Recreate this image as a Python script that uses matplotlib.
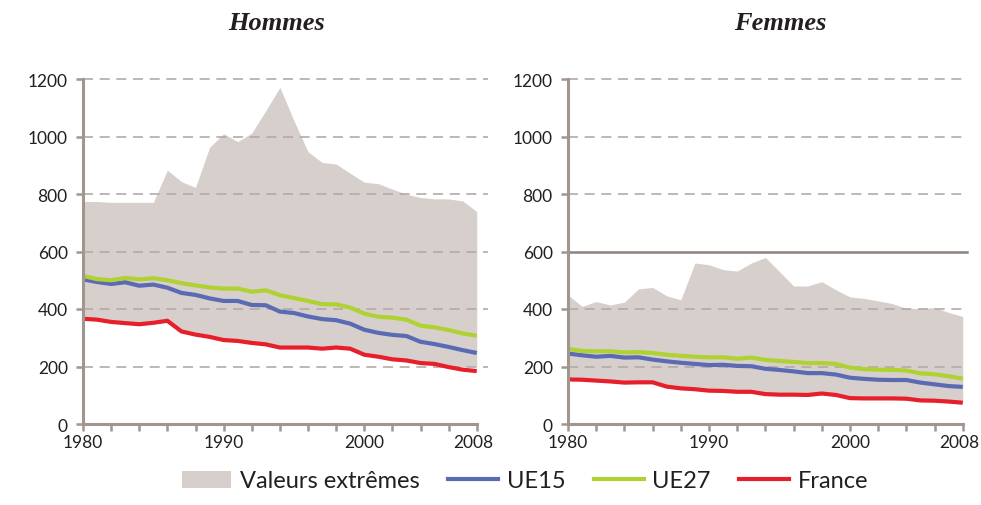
import numpy as np
import matplotlib
matplotlib.use("Agg")
import matplotlib.pyplot as plt
import matplotlib.transforms as mtransforms
from matplotlib.patches import Patch
from matplotlib.lines import Line2D

# Data
years = np.arange(1980, 2009)

hommes_max = [774, 774, 771, 771, 771, 771, 883, 843, 823, 962, 1010, 982, 1012, 1090, 1171,
              1055, 947, 910, 904, 872, 841, 836, 817, 799, 788, 783, 783, 776, 739]
hommes_ue15 = [503, 494, 487, 493, 481, 485, 474, 456, 449, 437, 428, 428, 414, 413, 391,
               386, 374, 365, 361, 349, 328, 317, 310, 306, 286, 278, 268, 257, 247]
hommes_ue27 = [515, 504, 500, 508, 503, 507, 500, 490, 482, 475, 471, 471, 460, 465, 448,
               438, 428, 417, 416, 405, 384, 373, 370, 363, 342, 336, 327, 315, 307]
hommes_france = [366, 363, 355, 351, 347, 352, 359, 322, 311, 303, 292, 289, 282, 277, 266,
                 266, 266, 262, 266, 262, 241, 234, 225, 221, 212, 209, 198, 189, 184]
hommes_min = [366, 363, 355, 351, 347, 352, 359, 322, 311, 303, 292, 289, 282, 277, 266,
              266, 266, 262, 266, 262, 241, 234, 225, 221, 212, 209, 203, 200, 198]

femmes_max = [449, 409, 426, 414, 424, 470, 475, 446, 432, 560, 554, 537, 532, 560, 579,
              530, 480, 480, 495, 467, 442, 437, 428, 419, 402, 402, 405, 388, 374]
femmes_ue15 = [245, 239, 234, 237, 231, 232, 224, 218, 213, 209, 205, 206, 202, 201, 192,
               188, 183, 177, 177, 172, 161, 157, 154, 153, 153, 144, 138, 132, 129]
femmes_ue27 = [261, 254, 253, 253, 249, 250, 247, 241, 237, 234, 232, 232, 227, 231, 223,
               219, 216, 212, 212, 209, 196, 191, 189, 188, 186, 176, 173, 166, 158]
femmes_france = [155, 154, 151, 148, 144, 145, 145, 130, 124, 121, 116, 115, 112, 112, 104,
                 102, 102, 101, 106, 101, 90, 89, 89, 89, 88, 82, 81, 78, 74]
femmes_min = femmes_france

yticks = [0, 200, 400, 600, 800, 1000, 1200]
xticklabels = {1980: "1980", 1990: "1990", 2000: "2000", 2008: "2008"}

FILL = "#d7cfcc"
BLUE = "#5a6bb4"
GREEN = "#afd232"
RED = "#e61f2a"
AXIS = "#a0958f"
GRID = "#b3aaa7"
TEXT = "#231f20"
FONT = ["Lato", "DejaVu Sans"]

fig = plt.figure(figsize=(9.81, 5.06), dpi=100)


def draw_panel(rect, xmax, vmax, vmin, ue15, ue27, france, title, title_x, solid600=False):
    ax = fig.add_axes(rect)
    ax.set_xlim(1980, xmax)
    ax.set_ylim(0, 1200)
    ax.fill_between(years, vmin, vmax, color=FILL, lw=0, zorder=1)
    for v in yticks[1:]:
        if solid600 and v == 600:
            ax.axhline(v, color="#8c817d", lw=1.8, zorder=2, clip_on=False)
        else:
            ax.axhline(v, color=GRID, lw=1.2, ls=(0, (6, 4)), zorder=2, clip_on=False)
    ax.plot(years, ue15, color=BLUE, lw=3, zorder=3, solid_capstyle="butt")
    ax.plot(years, ue27, color=GREEN, lw=3, zorder=3, solid_capstyle="butt")
    ax.plot(years, france, color=RED, lw=3, zorder=4, solid_capstyle="butt")

    for s in ["top", "right"]:
        ax.spines[s].set_visible(False)
    for s in ["left", "bottom"]:
        ax.spines[s].set_color(AXIS)
        ax.spines[s].set_linewidth(2.2)
        ax.spines[s].set_zorder(5)
    ax.spines["bottom"].set_bounds(1980, 2008)

    ax.set_yticks(yticks)
    ax.set_yticklabels([str(v) for v in yticks])
    ax.set_xticks(np.arange(1980, 2009, 2))
    ax.set_xticklabels([xticklabels.get(y, "") for y in range(1980, 2009, 2)])
    ax.tick_params(axis="both", color=AXIS, width=1.8, length=5, labelcolor=TEXT,
                   labelsize=12.5)
    ax.tick_params(axis="y", pad=6)
    ax.tick_params(axis="x", pad=2)
    for lab in ax.get_xticklabels() + ax.get_yticklabels():
        lab.set_family(FONT)
    # last year label sits a little left of its tick
    last = ax.get_xticklabels()[-1]
    last.set_transform(last.get_transform() +
                       mtransforms.ScaledTranslation(-3 / 100, 0, fig.dpi_scale_trans))
    fig.text(title_x, 1 - 30 / 506, title, ha="center", va="baseline", fontsize=19,
             family="Liberation Serif", style="italic", weight="bold", color=TEXT)
    return ax


draw_panel([83 / 981, 1 - 425 / 506, 405 / 981, 345 / 506], 2008.8,
           hommes_max, hommes_min, hommes_ue15, hommes_ue27, hommes_france,
           "Hommes", 277 / 981)
draw_panel([568 / 981, 1 - 425 / 506, 399 / 981, 345 / 506], 2008.3,
           femmes_max, femmes_min, femmes_ue15, femmes_ue27, femmes_france,
           "Femmes", 780 / 981, solid600=True)

handles = [Patch(facecolor=FILL, edgecolor="none"),
           Line2D([], [], color=BLUE, lw=3),
           Line2D([], [], color=GREEN, lw=3),
           Line2D([], [], color=RED, lw=3)]
labels = ["Valeurs extrêmes", "UE15", "UE27", "France"]
leg = fig.legend(handles, labels, loc="center", bbox_to_anchor=(525 / 981, 1 - 482 / 506),
                 ncol=4, frameon=False, handlelength=2.1, handleheight=0.72,
                 handletextpad=0.38, columnspacing=1.2, borderpad=0.2,
                 prop={"family": FONT, "size": 17})
for t in leg.get_texts():
    t.set_color(TEXT)

fig.savefig("out.png", dpi=100)
